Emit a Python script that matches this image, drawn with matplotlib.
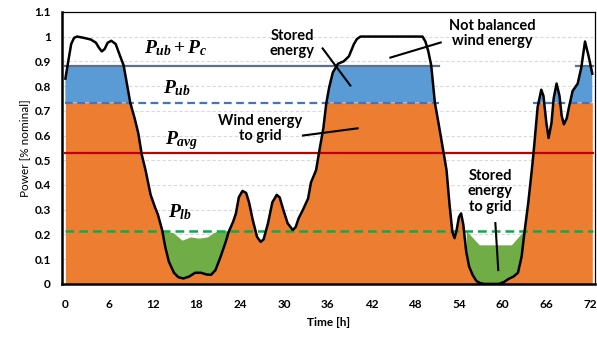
import numpy as np
import matplotlib
matplotlib.use("Agg")
import matplotlib.pyplot as plt

plt.rcParams['mathtext.fontset'] = 'custom'
plt.rcParams['mathtext.it'] = 'Liberation Serif:bold:italic'
plt.rcParams['mathtext.rm'] = 'Liberation Serif:bold'
plt.rcParams['mathtext.bf'] = 'Liberation Serif:bold'

# Wind power profile over 72 hours (fraction of nominal)
hours = [0.0, 0.4, 0.8, 1.2, 1.6, 2.5, 3.5, 4.2, 4.6, 5.0, 5.4, 5.8, 6.3, 6.9, 7.4,
         8.0, 8.5, 8.9, 9.5, 10.0, 10.5, 11.0, 11.7, 12.3, 12.7, 13.3, 13.7, 14.2,
         14.9, 15.5, 16.2, 17.0, 17.8, 18.6, 19.4, 20.0, 20.6, 21.3, 22.0, 22.4,
         23.0, 23.4, 23.8, 24.3, 24.8, 25.2, 25.7, 26.3, 26.8, 27.2, 27.8, 28.4,
         29.0, 29.4, 29.9, 30.5, 31.2, 31.6, 32.0, 32.6, 33.3, 33.7, 34.4, 34.8,
         35.4, 35.8, 36.2, 36.7, 37.4, 38.2, 38.9, 39.6, 40.0, 40.5, 45.0, 49.0,
         49.4, 49.8, 50.2, 50.7, 51.2, 51.9, 52.3, 52.7, 53.1, 53.4, 53.7, 54.0,
         54.3, 54.6, 55.0, 55.4, 55.9, 56.4, 56.9, 57.5, 59.5, 60.2, 60.8, 61.5,
         62.1, 62.6, 63.0, 63.5, 64.0, 64.3, 64.8, 65.3, 65.6, 66.0, 66.3, 66.7,
         67.0, 67.4, 67.8, 68.1, 68.4, 68.8, 69.1, 69.6, 70.3, 70.8, 71.3, 71.8,
         72.3]
power = [0.83, 0.90, 0.97, 0.995, 1.0, 0.995, 0.988, 0.975, 0.955, 0.94, 0.95,
         0.975, 0.983, 0.97, 0.93, 0.883, 0.80, 0.733, 0.67, 0.61, 0.52, 0.46,
         0.36, 0.31, 0.28, 0.215, 0.15, 0.09, 0.045, 0.027, 0.022, 0.03, 0.045,
         0.045, 0.038, 0.037, 0.056, 0.11, 0.17, 0.21, 0.25, 0.285, 0.35, 0.376,
         0.368, 0.33, 0.26, 0.19, 0.17, 0.18, 0.245, 0.33, 0.36, 0.35, 0.30,
         0.245, 0.218, 0.23, 0.265, 0.30, 0.345, 0.41, 0.46, 0.53, 0.63, 0.73,
         0.795, 0.855, 0.89, 0.90, 0.92, 0.97, 0.99, 1.0, 1.0, 1.0, 0.98, 0.94,
         0.883, 0.733, 0.65, 0.53, 0.46, 0.325, 0.21, 0.185, 0.22, 0.27, 0.285,
         0.24, 0.13, 0.07, 0.035, 0.012, 0.003, 0.0, 0.0, 0.008, 0.02, 0.03,
         0.045, 0.11, 0.21, 0.325, 0.46, 0.55, 0.715, 0.785, 0.76, 0.65, 0.59,
         0.65, 0.75, 0.81, 0.76, 0.68, 0.645, 0.67, 0.715, 0.78, 0.81, 0.876,
         0.98, 0.92, 0.85]

# Power levels
P_ub_c = 0.883
P_ub = 0.733
P_avg = 0.531
P_lb = 0.215

# Upper edge of the energy returned from storage in the two low-wind periods
green1_hours = [13.3, 14.8, 16.0, 17.2, 18.3, 19.5, 20.2, 21.0, 22.4]
green1_top = [0.215, 0.207, 0.177, 0.19, 0.185, 0.19, 0.205, 0.215, 0.215]
green2_hours = [55.0, 56.8, 61.2, 62.9]
green2_top = [0.215, 0.158, 0.158, 0.215]

# Extents of the upper level lines
ub_c_spans = [(0.0, 51.3), (70.1, 72.4)]
ub_spans = [(0.0, 51.3), (64.1, 72.4)]

x_ticks = list(range(0, 73, 6))
y_ticks = [0, 0.1, 0.2, 0.3, 0.4, 0.5, 0.6, 0.7, 0.8, 0.9, 1.0, 1.1]
y_ticklabels = ['0', '0.1', '0.2', '0.3', '0.4', '0.5', '0.6', '0.7', '0.8', '0.9', '1', '1.1']

ORANGE = '#ed7d31'
BLUE = '#5b9bd5'
GREEN = '#70ad47'
SLATE = '#5f6f86'

fig = plt.figure(figsize=(5.97, 3.38), dpi=100)
ax = fig.add_axes([0.104, 0.160, 0.893, 0.805])

h = np.asarray(hours)
p = np.asarray(power)
xx = np.linspace(h[0], h[-1], 3000)
cc = np.interp(xx, h, p)

ax.fill_between(xx, 0, np.minimum(cc, P_ub), color=ORANGE, lw=0, zorder=2)
ax.fill_between(xx, P_ub, np.minimum(cc, P_ub_c), where=cc > P_ub,
                color=BLUE, lw=0, zorder=2, interpolate=True)
for gh, gt in ((green1_hours, green1_top), (green2_hours, green2_top)):
    gx = np.linspace(gh[0], gh[-1], 400)
    ax.fill_between(gx, np.interp(gx, h, p), np.interp(gx, gh, gt),
                    where=np.interp(gx, h, p) < np.interp(gx, gh, gt),
                    color=GREEN, lw=0, zorder=2, interpolate=True)

for a, b in ub_c_spans:
    ax.plot([a, b], [P_ub_c, P_ub_c], color=SLATE, lw=1.6, zorder=3)
for a, b in ub_spans:
    ax.plot([a, b], [P_ub, P_ub], color='#4472c4', lw=1.6, ls=(0, (3.5, 2)), zorder=3)
ax.plot([0, 72.4], [P_avg, P_avg], color='#c00000', lw=1.6, zorder=3)
ax.plot([0, 72.4], [P_lb, P_lb], color='#00b050', lw=1.8, ls=(0, (3.5, 2)), zorder=3)

ax.plot(h, p, color='black', lw=1.8, zorder=4, solid_joinstyle='round')

ax.set_xlim(-0.45, 72.7)
ax.set_ylim(0, 1.1)
ax.set_xticks(x_ticks)
ax.set_xticklabels([str(t) for t in x_ticks], fontweight='bold', fontsize=8.5,
                   family='Lato')
ax.set_yticks(y_ticks)
ax.set_yticklabels(y_ticklabels, fontweight='bold', fontsize=8.5, family='Lato')
ax.tick_params(axis='y', length=0, pad=8)
ax.tick_params(axis='x', length=0, pad=11)
ax.yaxis.grid(True, color='#d9d9d9', ls=(0, (3, 2)), lw=0.8, zorder=0)
ax.set_axisbelow(True)
for s in ('left', 'bottom'):
    ax.spines[s].set_linewidth(1.8)
for s in ('top', 'right'):
    ax.spines[s].set_linewidth(0.9)

ax.set_xlabel('Time [h]', fontweight='bold', fontsize=8.5, family='Lato', labelpad=5)
ax.set_ylabel('Power [% nominal]', fontsize=8.5, family='Lato', labelpad=3)

label_kw = dict(fontsize=10.5, fontweight='bold', family='Lato', ha='center',
                va='center', linespacing=1.15, zorder=6)
ax.text(31.1, 0.972, 'Stored\nenergy', **label_kw)
ax.text(26.7, 0.629, 'Wind energy\nto grid', **label_kw)
ax.text(58.6, 1.012, 'Not balanced\nwind energy', **label_kw)
ax.text(58.3, 0.375, 'Stored\nenergy\nto grid', **label_kw)

ptr_kw = dict(color='black', lw=1.5, zorder=6)
ax.plot([35.3, 39.1], [0.952, 0.802], **ptr_kw)
ax.plot([32.6, 40.1], [0.600, 0.629], **ptr_kw)
ax.plot([44.6, 51.5], [0.915, 0.976], **ptr_kw)
ax.plot([59.0, 59.4], [0.246, 0.056], **ptr_kw)

math_kw = dict(fontsize=14, ha='center', va='center', zorder=6)
ax.text(15.1, 0.952, r'$P_{ub}+P_c$', **math_kw)
ax.text(15.3, 0.79, r'$P_{ub}$', **math_kw)
ax.text(15.9, 0.58, r'$P_{avg}$', **math_kw)
ax.text(15.8, 0.29, r'$P_{lb}$', **math_kw)

fig.savefig('out.png', dpi=100)
